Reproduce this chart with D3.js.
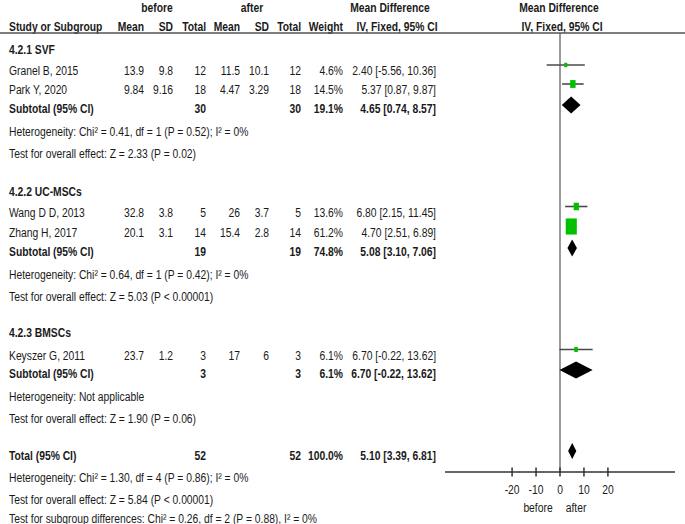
<!DOCTYPE html>
<html><head><meta charset="utf-8">
<script src="https://cdn.jsdelivr.net/npm/d3@7"></script>
<style>
html,body{margin:0;padding:0;background:#fff;}
svg text{font-family:"Liberation Sans",Arial,sans-serif;font-size:13.5px;fill:#1a1a1a;}
</style></head>
<body><svg id="c" width="685" height="524"></svg>
<script>
// ---------------- data ----------------
const groups = ["4.2.1 SVF", "4.2.2 UC-MSCs", "4.2.3 BMSCs"];
const studies = ["Granel B, 2015", "Park Y, 2020", "Wang D D, 2013", "Zhang H, 2017", "Keyszer G, 2011"];
const studyGroup = [0, 0, 1, 1, 2];
const beforeMean = ["13.9", "9.84", "32.8", "20.1", "23.7"];
const beforeSD = ["9.8", "9.16", "3.8", "3.1", "1.2"];
const beforeN = [12, 18, 5, 14, 3];
const afterMean = ["11.5", "4.47", "26", "15.4", "17"];
const afterSD = ["10.1", "3.29", "3.7", "2.8", "6"];
const afterN = [12, 18, 5, 14, 3];
const weight = [4.6, 14.5, 13.6, 61.2, 6.1];
const md = [2.40, 5.37, 6.80, 4.70, 6.70];
const ciLow = [-5.56, 0.87, 2.15, 2.51, -0.22];
const ciHigh = [10.36, 9.87, 11.45, 6.89, 13.62];

const subBeforeN = [30, 19, 3];
const subAfterN = [30, 19, 3];
const subWeight = [19.1, 74.8, 6.1];
const subMD = [4.65, 5.08, 6.70];
const subLow = [0.74, 3.10, -0.22];
const subHigh = [8.57, 7.06, 13.62];
const subHet = ["Heterogeneity: Chi\u00b2 = 0.41, df = 1 (P = 0.52); I\u00b2 = 0%",
                "Heterogeneity: Chi\u00b2 = 0.64, df = 1 (P = 0.42); I\u00b2 = 0%",
                "Heterogeneity: Not applicable"];
const subTest = ["Test for overall effect: Z = 2.33 (P = 0.02)",
                 "Test for overall effect: Z = 5.03 (P < 0.00001)",
                 "Test for overall effect: Z = 1.90 (P = 0.06)"];

const totalBeforeN = 52, totalAfterN = 52, totalWeight = 100.0;
const totalMD = 5.10, totalLow = 3.39, totalHigh = 6.81;
const totalTexts = ["Heterogeneity: Chi\u00b2 = 1.30, df = 4 (P = 0.86); I\u00b2 = 0%",
                    "Test for overall effect: Z = 5.84 (P < 0.00001)",
                    "Test for subgroup differences: Chi\u00b2 = 0.26, df = 2 (P = 0.88), I\u00b2 = 0%"];
const tickValues = [-20, -10, 0, 10, 20];
const favourLabels = ["before", "after"];

// ---------------- layout ----------------
const svg = d3.select("#c");
const SX = 0.765;
function txt(x, yc, s, anchor, bold) {
  svg.append("text")
    .attr("transform", `translate(${x},${yc + 4.9}) scale(${SX},1)`)
    .attr("text-anchor", anchor || "start")
    .style("font-weight", bold ? "bold" : "normal")
    .text(s);
}
const colX = {name: 9, bm: 144, bsd: 173, bn: 206, am: 240, asd: 269, an: 301, w: 343, ci: 436};
const x = d3.scaleLinear().domain([-48, 48]).range([445, 675]);
const fmtCI = (m, l, h) => `${m.toFixed(2)} [${l.toFixed(2)}, ${h.toFixed(2)}]`;
const fmtW = w => w.toFixed(1) + "%";

// headers
txt(157, 7, "before", "middle", true);
txt(252, 7, "after", "middle", true);
txt(390, 7, "Mean Difference", "middle", true);
txt(559, 7, "Mean Difference", "middle", true);
txt(colX.name, 26, "Study or Subgroup", "start", true);
txt(colX.bm, 26, "Mean", "end", true);
txt(colX.bsd, 26, "SD", "end", true);
txt(colX.bn, 26, "Total", "end", true);
txt(colX.am, 26, "Mean", "end", true);
txt(colX.asd, 26, "SD", "end", true);
txt(colX.an, 26, "Total", "end", true);
txt(colX.w, 26, "Weight", "end", true);
txt(397, 26, "IV, Fixed, 95% CI", "middle", true);
txt(562, 26, "IV, Fixed, 95% CI", "middle", true);

const headerLineY = 33, axisY = 472;

// zero line
svg.append("line").attr("x1", x(0)).attr("x2", x(0)).attr("y1", headerLineY).attr("y2", axisY)
  .attr("stroke", "#9a9a9a").attr("stroke-width", 2);
svg.append("line").attr("x1", 0).attr("x2", 685).attr("y1", headerLineY).attr("y2", headerLineY)
  .attr("stroke", "#555").attr("stroke-width", 1.5);

// row positions (text centres)
const groupY = [49, 191, 332];
const studyY = [70.5, 89.5, 212, 232, 355];
const subY = [108, 251, 373];
const hetY = [131, 274, 396];
const testY = [153, 296, 418];
const totalY = 455;
const totalTextY = [477, 499, 518];

function diamond(m, l, h, yc, hh) {
  const p = [[x(l), yc], [x(m), yc - hh], [x(h), yc], [x(m), yc + hh]];
  svg.append("path").attr("d", d3.line()(p) + "Z").attr("fill", "#000");
}

groups.forEach((g, gi) => {
  txt(colX.name, groupY[gi], g, "start", true);
  studies.forEach((s, i) => {
    if (studyGroup[i] !== gi) return;
    const y = studyY[i];
    txt(colX.name, y, s);
    txt(colX.bm, y, beforeMean[i], "end");
    txt(colX.bsd, y, beforeSD[i], "end");
    txt(colX.bn, y, beforeN[i], "end");
    txt(colX.am, y, afterMean[i], "end");
    txt(colX.asd, y, afterSD[i], "end");
    txt(colX.an, y, afterN[i], "end");
    txt(colX.w, y, fmtW(weight[i]), "end");
    txt(colX.ci, y, fmtCI(md[i], ciLow[i], ciHigh[i]), "end");
    const my = y - 5.5;
    svg.append("line").attr("x1", x(ciLow[i])).attr("x2", x(ciHigh[i])).attr("y1", my).attr("y2", my)
      .attr("stroke", "#4a4a4a").attr("stroke-width", 1.6);
    const w = Math.max(3, 1.42 * Math.sqrt(weight[i])), h = w * 1.45;
    svg.append("rect").attr("x", x(md[i]) - w / 2).attr("y", my - h / 2).attr("width", w).attr("height", h)
      .attr("fill", "#00c000");
  });
  const sy = subY[gi];
  txt(colX.name, sy, "Subtotal (95% CI)", "start", true);
  txt(colX.bn, sy, subBeforeN[gi], "end", true);
  txt(colX.an, sy, subAfterN[gi], "end", true);
  txt(colX.w, sy, fmtW(subWeight[gi]), "end", true);
  txt(colX.ci, sy, fmtCI(subMD[gi], subLow[gi], subHigh[gi]), "end", true);
  diamond(subMD[gi], subLow[gi], subHigh[gi], sy - 3, 8.5);
  txt(colX.name, hetY[gi], subHet[gi]);
  txt(colX.name, testY[gi], subTest[gi]);
});

txt(colX.name, totalY, "Total (95% CI)", "start", true);
txt(colX.bn, totalY, totalBeforeN, "end", true);
txt(colX.an, totalY, totalAfterN, "end", true);
txt(colX.w, totalY, fmtW(totalWeight), "end", true);
txt(colX.ci, totalY, fmtCI(totalMD, totalLow, totalHigh), "end", true);
diamond(totalMD, totalLow, totalHigh, totalY - 4, 8);
totalTexts.forEach((t, i) => txt(colX.name, totalTextY[i], t));

// axis
svg.append("line").attr("x1", x.range()[0]).attr("x2", x.range()[1]).attr("y1", axisY).attr("y2", axisY)
  .attr("stroke", "#333").attr("stroke-width", 1.5);
x.ticks && tickValues.forEach(v => {
  svg.append("line").attr("x1", x(v)).attr("x2", x(v)).attr("y1", axisY - 4.5).attr("y2", axisY + 4.5)
    .attr("stroke", "#333").attr("stroke-width", 1.5);
  txt(x(v), 489, d3.format("d")(v).replace("\u2212", "-"), "middle");
});
txt(538, 507, favourLabels[0], "middle");
txt(576, 507, favourLabels[1], "middle");
</script></body></html>
